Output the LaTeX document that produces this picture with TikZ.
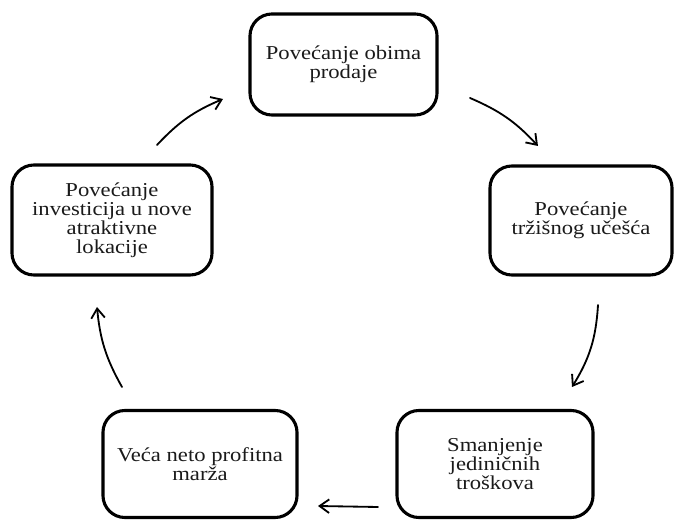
\documentclass[tikz,border=0pt]{standalone}
\usepackage{fontspec}
\setmainfont[FakeStretch=1.15]{Liberation Serif}
\usetikzlibrary{arrows.meta,positioning}
\definecolor{boxline}{HTML}{000000}
\definecolor{textcol}{HTML}{1A1A1A}
\tikzset{
  stage/.style={draw=boxline, line width=2.2pt, rounded corners=0.55cm, align=center,
                text=textcol, font=\fontsize{14}{13.5}\selectfont, inner sep=0pt},
  flow/.style={line width=1.3pt, line cap=round, -{Straight Barb[length=2.4mm,width=3.4mm]}}
}

\begin{document}
\begin{tikzpicture}[x=0.025cm,y=0.025cm]
  \useasboundingbox (0,0) rectangle (676,519);
  \node[stage, minimum width=4.675cm, minimum height=2.525cm] (prodaja) at (343.5,454.5)
    {Povećanje obima\\prodaje};
  \node[stage, minimum width=4.55cm, minimum height=2.725cm] (ucesce) at (581,298.5)
    {Povećanje\\tržišnog učešća};
  \node[stage, minimum width=4.9cm, minimum height=2.675cm] (troskovi) at (495,55)
    {Smanjenje\\jediničnih\\troškova};
  \node[stage, minimum width=4.85cm, minimum height=2.675cm] (marza) at (200,55)
    {Veća neto profitna\\marža};
  \node[stage, minimum width=5cm, minimum height=2.75cm] (investicije) at (112,299)
    {Povećanje\\investicija u nove\\atraktivne\\lokacije};

  \coordinate (p1) at (470,421);  \coordinate (q1) at (538,373);
  \coordinate (p2) at (598,214);  \coordinate (q2) at (572,132);
  \coordinate (p3) at (378,12);   \coordinate (q3) at (318,13);
  \coordinate (p4) at (122,132);  \coordinate (q4) at (97,212);
  \coordinate (p5) at (157,374);  \coordinate (q5) at (223,420);

  \draw[flow] (p1) to[bend left=12] (q1);
  \draw[flow] (p2) to[bend left=14] (q2);
  \draw[flow] (p3) -- (q3);
  \draw[flow] (p4) to[bend left=12] (q4);
  \draw[flow] (p5) to[bend left=12] (q5);
\end{tikzpicture}
\end{document}
